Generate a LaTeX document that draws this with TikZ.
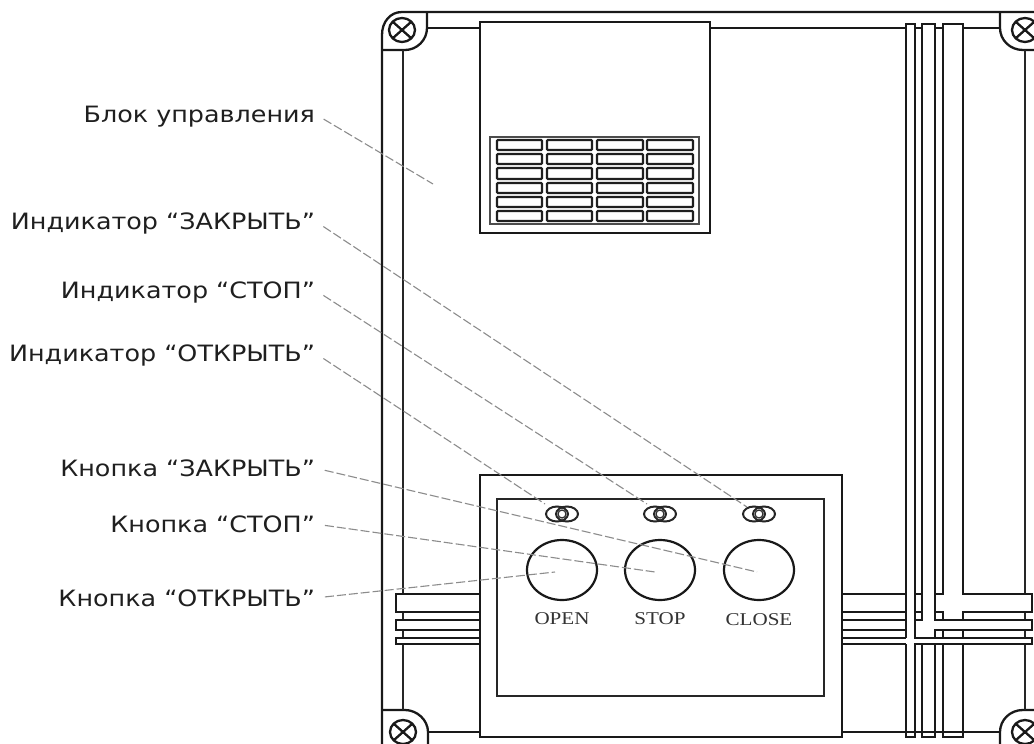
\documentclass[tikz,border=0pt]{standalone}
\usepackage{fontspec}
\setmainfont{DejaVu Sans}
\newfontfamily\serifl{Liberation Serif}
\tikzset{
  lbl/.style={anchor=east,inner sep=0pt,outer sep=0pt,text height=16pt,text depth=0pt,text=black!88,font=\fontsize{22.5}{26}\selectfont,xscale=1.13},
  conn/.style={draw=black!45,line width=1.1pt,dash pattern=on 9pt off 3pt,shorten <=10pt},
  ln/.style={draw=black!90,line width=2.3pt},
  thin ln/.style={draw=black!85,line width=2pt},
  cell/.style={draw=black!88,line width=2.1pt,rounded corners=0.8pt,fill=white},
  captext/.style={inner sep=0pt,text=black!80,font=\fontsize{18}{22}\serifl,xscale=1.17},
  btn/.style={draw=black!90,line width=2.2pt,fill=none},
  screw/.style={draw=black!90,line width=2.3pt},
}
\begin{document}
\begin{tikzpicture}[x=1pt,y=-1pt]
\useasboundingbox (0,0) rectangle (1034,744);
\fill[white] (0,0) rectangle (1034,744);
\begin{scope}
\clip (0,0) rectangle (1034,744);
% outer frame
\draw[ln] (382,744) -- (382,35) .. controls (382,22) and (390,12) .. (402,12) -- (1034,12);
\draw[ln] (382,50) -- (405,50) .. controls (417,50) and (427,40) .. (427,28) -- (427,12);
\draw[ln] (1000,12) -- (1000,28) .. controls (1000,40) and (1010,50) .. (1023,50) -- (1034,50);
\draw[ln] (382,710) -- (405,710) .. controls (417,710) and (428,720) .. (428,732) -- (428,744);
\draw[ln] (1000,744) -- (1000,732) .. controls (1000,720) and (1010,710) .. (1023,710) -- (1034,710);
% screws
\foreach \cx/\cy in {402/30,403/732,1025/30,1025/732}{
  \draw[screw] (\cx,\cy) ellipse [x radius=13pt,y radius=12pt];
  \draw[screw] (\cx-9,\cy-8) -- (\cx+9,\cy+8) (\cx-9,\cy+8) -- (\cx+9,\cy-8);
}
% inner frame lines
\draw[ln] (427,28) -- (480,28) (710,28) -- (906,28) (915,28) -- (922,28) (936,28) -- (943,28) (963,28) -- (1000,28);
\draw[ln] (428,732) -- (480,732) (842,732) -- (1000,732);
\draw[thin ln] (403,50) -- (403,594) (403,612) -- (403,620) (403,630) -- (403,638) (403,644) -- (403,710);
\draw[thin ln] (1025,50) -- (1025,594) (1025,612) -- (1025,620) (1025,630) -- (1025,638) (1025,644) -- (1025,710);
% left bars
\draw[ln] (480,594) -- (396,594) -- (396,612) -- (480,612);
\draw[ln] (480,620) -- (396,620) -- (396,630) -- (480,630);
\draw[ln] (480,638) -- (396,638) -- (396,644) -- (480,644);
% right bars, left of crossing
\draw[ln] (842,594) -- (906,594) (842,612) -- (906,612) (842,620) -- (906,620)
          (842,630) -- (906,630) (842,638) -- (906,638) (842,644) -- (906,644);
% vertical strips above
\draw[ln] (906,638) -- (906,24) -- (915,24) -- (915,638) -- (1032,638) -- (1032,644) -- (915,644) -- (915,737) -- (906,737) -- (906,644);
\draw[ln] (915,594) -- (922,594) (915,612) -- (922,612);
\draw[ln] (915,620) -- (922,620) -- (922,24) -- (935,24) -- (935,620) -- (1032,620) -- (1032,630) -- (935,630) -- (935,638);
\draw[ln] (935,594) -- (943,594) -- (943,24) -- (963,24) -- (963,594) -- (1032,594) -- (1032,612) -- (963,612) -- (963,620);
\draw[ln] (935,612) -- (943,612) -- (943,620);
\draw[ln] (943,630) -- (943,638) (963,630) -- (963,638);
\draw[ln] (922,644) -- (922,737) -- (935,737) -- (935,644);
\draw[ln] (943,644) -- (943,737) -- (963,737) -- (963,644);
% top box and grille
\draw[ln,fill=white] (480,22) rectangle (710,233);
\draw[draw=black!70,line width=1.8pt] (490,137) rectangle (699,224);
\foreach \ya/\yb in {140/150,154/164,168/179,183/193,197/207,211/221}{
  \foreach \xa/\xb in {497/542,547/592,597/643,647/693}{
    \draw[cell] (\xa,\ya) rectangle (\xb,\yb);
  }
}
% control panel
\draw[ln,fill=white] (480,475) rectangle (842,737);
\draw[thin ln] (497,499) rectangle (824,696);
\foreach \cx in {562,660,759}{
  \draw[btn] (\cx,570) ellipse [x radius=35pt,y radius=30pt];
  \draw[thin ln] (\cx-5,514) ellipse [x radius=11pt,y radius=7.5pt];
  \draw[thin ln] (\cx+5,514) ellipse [x radius=11pt,y radius=7.5pt];
  \draw[draw=black!80,line width=1.3pt] (\cx,514) ellipse [x radius=4pt,y radius=4pt];
}
\end{scope}
% captions
\node[captext] (copen) at (562,619) {OPEN};
\node[captext] (cstop) at (660,619) {STOP};
\node[captext] (cclose) at (759,620) {CLOSE};
% labels
\node[lbl] (l1) at (315,114) {Блок управления};
\node[lbl] (l2) at (315,221) {Индикатор “ЗАКРЫТЬ”};
\node[lbl] (l3) at (315,290) {Индикатор “СТОП”};
\node[lbl] (l4) at (315,353) {Индикатор “ОТКРЫТЬ”};
\node[lbl] (l5) at (315,468) {Кнопка “ЗАКРЫТЬ”};
\node[lbl] (l6) at (315,524) {Кнопка “СТОП”};
\node[lbl] (l7) at (315,598) {Кнопка “ОТКРЫТЬ”};
% connector ends
\coordinate (e1) at (433,184);
\coordinate (e2) at (747,507);
\coordinate (e3) at (647,504);
\coordinate (e4) at (545,504);
\coordinate (e5) at (757,572);
\coordinate (e6) at (655,572);
\coordinate (e7) at (555,572);
\foreach \i in {1,...,7}{
  \draw[conn] (l\i.east) -- (e\i);
}
\end{tikzpicture}
\end{document}
